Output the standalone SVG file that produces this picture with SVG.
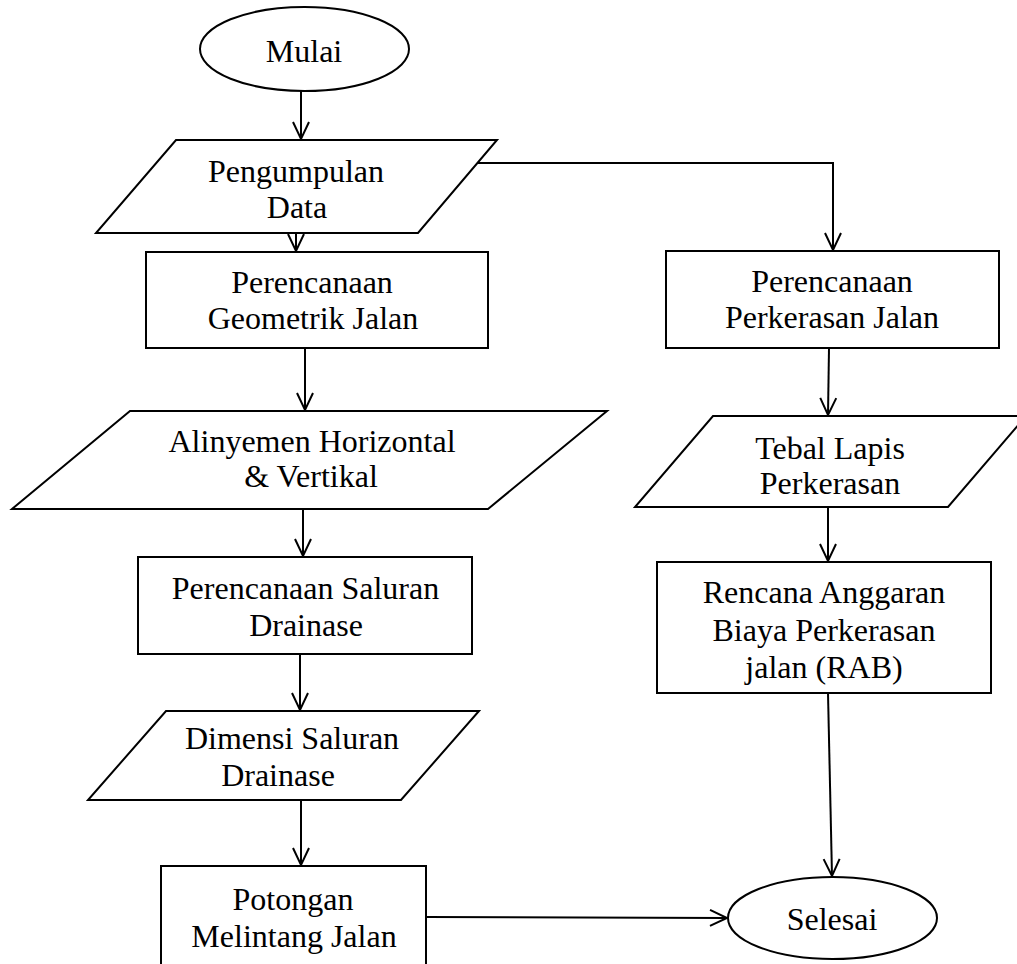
<svg xmlns="http://www.w3.org/2000/svg" width="1017" height="964" viewBox="0 0 1017 964">
  <style>
    .shape { fill: #ffffff; stroke: #000000; stroke-width: 2; }
    .conn { fill: none; stroke: #000000; stroke-width: 2; }
    .label { font-family: "Liberation Serif", "Times New Roman", serif; font-size: 32px; fill: #000000; text-anchor: middle; }
  </style>
  <defs>
    <marker id="arrow" markerUnits="userSpaceOnUse" markerWidth="20" markerHeight="20" refX="0" refY="0" orient="auto" overflow="visible">
      <path d="M -17 -8 L 0 0 L -17 8" fill="none" stroke="#000000" stroke-width="2"/>
    </marker>
  </defs>
  <rect x="0" y="0" width="1017" height="964" fill="#ffffff"/>

  <!-- connectors -->
  <g id="connectors">
    <line class="conn" x1="301" y1="91" x2="301" y2="139" marker-end="url(#arrow)"/>
    <line class="conn" x1="296" y1="233" x2="296" y2="251" marker-end="url(#arrow)"/>
    <polyline class="conn" points="477,163 833,163 833,250" marker-end="url(#arrow)"/>
    <line class="conn" x1="305" y1="348" x2="305" y2="410" marker-end="url(#arrow)"/>
    <line class="conn" x1="303" y1="509" x2="303" y2="556" marker-end="url(#arrow)"/>
    <line class="conn" x1="300" y1="654" x2="300" y2="710" marker-end="url(#arrow)"/>
    <line class="conn" x1="301" y1="800" x2="301" y2="865" marker-end="url(#arrow)"/>
    <line class="conn" x1="427" y1="917" x2="727" y2="918" marker-end="url(#arrow)"/>
    <line class="conn" x1="829" y1="348" x2="828" y2="415" marker-end="url(#arrow)"/>
    <line class="conn" x1="828" y1="507" x2="828" y2="561" marker-end="url(#arrow)"/>
    <line class="conn" x1="828" y1="693" x2="832" y2="876" marker-end="url(#arrow)"/>
  </g>

  <!-- left column -->
  <g id="mulai">
    <ellipse class="shape" cx="304.5" cy="49" rx="104.5" ry="42"/>
    <text class="label" x="304" y="62">Mulai</text>
  </g>
  <g id="pengumpulan-data">
    <polygon class="shape" points="176,140 497,140 418,233 96,233"/>
    <text class="label" x="296" y="182">Pengumpulan</text>
    <text class="label" x="297" y="218">Data</text>
  </g>
  <g id="perencanaan-geometrik">
    <rect class="shape" x="146" y="252" width="342" height="96"/>
    <text class="label" x="312" y="293">Perencanaan</text>
    <text class="label" x="313" y="329">Geometrik Jalan</text>
  </g>
  <g id="alinyemen">
    <polygon class="shape" points="130,411 607,411 488,509 12,509"/>
    <text class="label" x="312" y="452">Alinyemen Horizontal</text>
    <text class="label" x="311" y="487">&amp; Vertikal</text>
  </g>
  <g id="perencanaan-saluran">
    <rect class="shape" x="138" y="557" width="334" height="97"/>
    <text class="label" x="305.5" y="599">Perencanaan Saluran</text>
    <text class="label" x="306" y="636">Drainase</text>
  </g>
  <g id="dimensi-saluran">
    <polygon class="shape" points="166,711 479,711 401,800 88,800"/>
    <text class="label" x="292" y="749">Dimensi Saluran</text>
    <text class="label" x="278" y="786">Drainase</text>
  </g>
  <g id="potongan-melintang">
    <rect class="shape" x="161" y="866" width="265" height="110"/>
    <text class="label" x="293" y="910">Potongan</text>
    <text class="label" x="294" y="947">Melintang Jalan</text>
  </g>

  <!-- right column -->
  <g id="perencanaan-perkerasan">
    <rect class="shape" x="666" y="251" width="333" height="97"/>
    <text class="label" x="832" y="292">Perencanaan</text>
    <text class="label" x="832" y="328">Perkerasan Jalan</text>
  </g>
  <g id="tebal-lapis">
    <polygon class="shape" points="713,416 1026,416 948,507 635,507"/>
    <text class="label" x="830" y="459">Tebal Lapis</text>
    <text class="label" x="830" y="494">Perkerasan</text>
  </g>
  <g id="rab">
    <rect class="shape" x="657" y="562" width="334" height="131"/>
    <text class="label" x="824" y="603">Rencana Anggaran</text>
    <text class="label" x="824" y="641">Biaya Perkerasan</text>
    <text class="label" x="824" y="678">jalan (RAB)</text>
  </g>
  <g id="selesai">
    <ellipse class="shape" cx="832.5" cy="918" rx="104.5" ry="41"/>
    <text class="label" x="832" y="930">Selesai</text>
  </g>
</svg>
